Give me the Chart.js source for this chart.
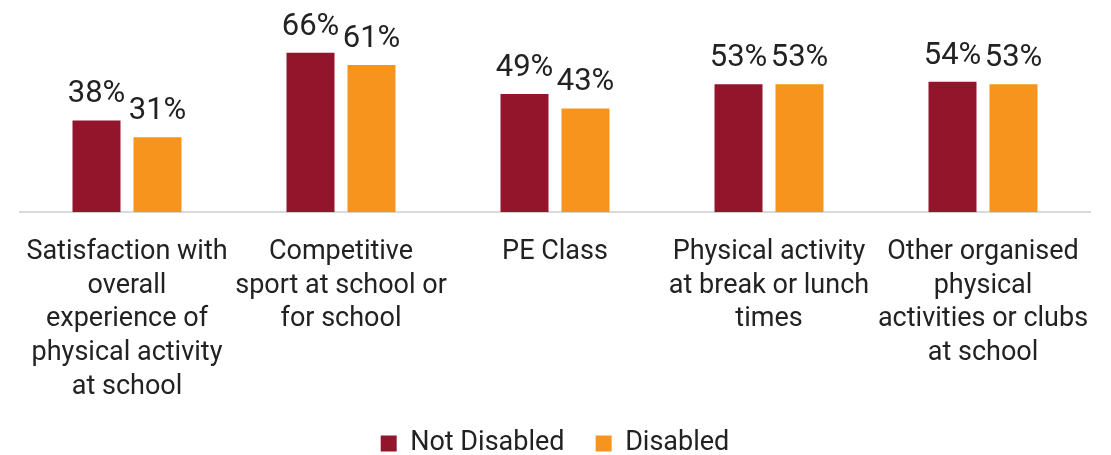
<!DOCTYPE html>
<html>
<head>
<meta charset="utf-8">
<script src="https://cdn.jsdelivr.net/npm/chart.js@4"></script>
<style>
  html, body { margin: 0; padding: 0; background: #fff; }
  #wrap { width: 1111px; height: 455px; }
</style>
</head>
<body>
<div id="wrap"><canvas id="myChart"></canvas></div>
<script>
const categories = [
  ["Satisfaction with", "overall", "experience of", "physical activity", "at school"],
  ["Competitive", "sport at school or", "for school"],
  ["PE Class"],
  ["Physical activity", "at break or lunch", "times"],
  ["Other organised", "physical", "activities or clubs", "at school"]
];
const notDisabled = [38, 66, 49, 53, 54];
const disabled = [31, 61, 43, 53, 53];
const seriesNames = ["Not Disabled", "Disabled"];

const FONT = "Roboto, 'Open Sans', sans-serif";

// percent labels above every bar
const valueLabels = {
  id: "valueLabels",
  afterDatasetsDraw(chart) {
    const ctx = chart.ctx;
    ctx.save();
    ctx.font = "31px " + FONT;
    ctx.fillStyle = "#222";
    ctx.textAlign = "center";
    ctx.textBaseline = "alphabetic";
    chart.data.datasets.forEach((ds, i) => {
      chart.getDatasetMeta(i).data.forEach((bar, j) => {
        ctx.fillText(ds.data[j] + "%", bar.x, bar.y - 18);
      });
    });
    ctx.restore();
  }
};

const ctx = document.getElementById("myChart").getContext("2d");
const myChart = new Chart(ctx, {
  type: "bar",
  data: {
    labels: categories,
    datasets: [
      { label: seriesNames[0], data: notDisabled, backgroundColor: "#93152C" },
      { label: seriesNames[1], data: disabled, backgroundColor: "#F7941D" }
    ]
  },
  options: {
    responsive: true,
    maintainAspectRatio: false,
    animation: false,
    categoryPercentage: 0.57,
    barPercentage: 0.787,
    layout: { padding: { left: 20, right: 21, top: 19, bottom: -12 } },
    plugins: {
      tooltip: { enabled: false },
      legend: {
        position: "bottom",
        labels: {
          boxWidth: 16,
          boxHeight: 16,
          padding: 11,
          color: "#222",
          font: { family: FONT, size: 27 },
          // a little extra room after the first entry
          generateLabels(chart) {
            const items = Chart.defaults.plugins.legend.labels.generateLabels(chart);
            items[0].text += "\u00a0\u00a0\u00a0";
            return items;
          }
        }
      }
    },
    scales: {
      x: {
        grid: { display: false },
        border: { display: true, color: "#d9d9d9", width: 2 },
        ticks: {
          color: "#222",
          maxRotation: 0,
          autoSkip: false,
          padding: 15,
          font: { family: FONT, size: 27, lineHeight: 1.25 }
        }
      },
      y: {
        display: false,
        min: 0,
        max: 80
      }
    }
  },
  plugins: [valueLabels]
});
</script>
</body>
</html>
